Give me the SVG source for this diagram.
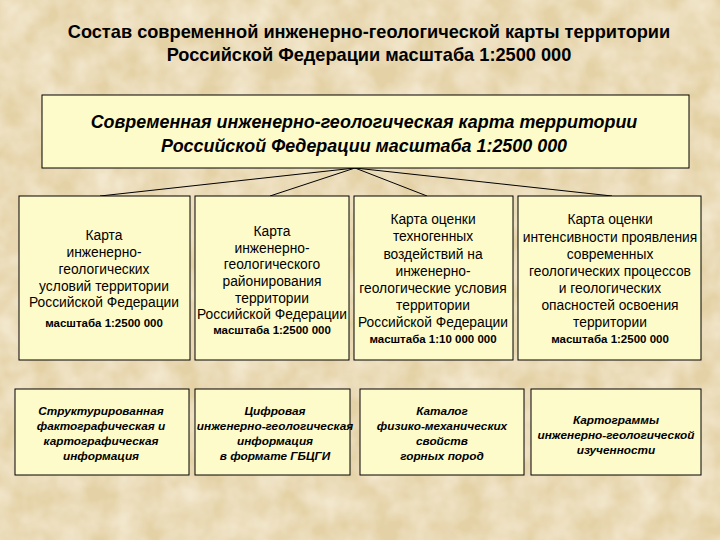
<svg xmlns="http://www.w3.org/2000/svg" width="720" height="540" viewBox="0 0 720 540">
<defs>
<filter id="tex" x="0" y="0" width="100%" height="100%">
<feTurbulence type="fractalNoise" baseFrequency="0.035" numOctaves="3" seed="4" result="n"/>
<feColorMatrix in="n" type="matrix" values="0 0 0 0 0.94  0 0 0 0 0.86  0 0 0 0 0.70  0 0 0 -1.2 0.9" result="c"/>
<feComposite in="c" in2="SourceGraphic" operator="over"/>
</filter>
</defs>
<style>
.box{fill:#fefbca;stroke:#000;stroke-width:1}
.title{font-family:"Liberation Sans",Arial,sans-serif;font-weight:bold;font-size:18.2px;fill:#000;text-anchor:middle}
.main{font-family:"Liberation Sans",Arial,sans-serif;font-weight:bold;font-style:italic;font-size:17.9px;fill:#000;text-anchor:middle}
.t1{font-family:"Liberation Sans",Arial,sans-serif;font-size:13.8px;fill:#000;text-anchor:middle}
.sc{font-family:"Liberation Sans",Arial,sans-serif;font-weight:bold;font-size:11.5px;fill:#000;text-anchor:middle}
.t2{font-family:"Liberation Sans",Arial,sans-serif;font-weight:bold;font-style:italic;font-size:11.8px;fill:#000;text-anchor:middle}
.conn{stroke:#000;stroke-width:1;fill:none}
</style>
<rect x="0" y="0" width="720" height="540" fill="#e4d2a6"/>
<rect x="0" y="0" width="720" height="540" fill="#e4d2a6" filter="url(#tex)"/>
<g id="title">
<text class="title" x="369" y="38">Состав современной инженерно-геологической карты территории</text>
<text class="title" x="369" y="61">Российской Федерации масштаба 1:2500 000</text>
</g>
<g id="connectors">
<line class="conn" x1="355" y1="168" x2="100" y2="196"/>
<line class="conn" x1="355" y1="168" x2="270" y2="196"/>
<line class="conn" x1="355" y1="168" x2="427" y2="196"/>
<line class="conn" x1="355" y1="168" x2="612" y2="196"/>
</g>
<g id="main">
<rect class="box" x="42" y="95" width="647" height="73"/>
<text class="main" x="364" y="128">Современная инженерно-геологическая карта территории</text>
<text class="main" x="364" y="152">Российской Федерации масштаба 1:2500 000</text>
</g>
<g id="map1">
<rect class="box" x="19" y="196" width="171" height="164"/>
<text class="t1" x="104" y="240">Карта</text>
<text class="t1" x="104" y="257">инженерно-</text>
<text class="t1" x="104" y="274">геологических</text>
<text class="t1" x="104" y="291">условий территории</text>
<text class="t1" x="104" y="307">Российской Федерации</text>
<text class="sc" x="104" y="327">масштаба 1:2500 000</text>
</g>
<g id="map2">
<rect class="box" x="195" y="196" width="154" height="164"/>
<text class="t1" x="272" y="236">Карта</text>
<text class="t1" x="272" y="253">инженерно-</text>
<text class="t1" x="272" y="269">геологического</text>
<text class="t1" x="272" y="286">районирования</text>
<text class="t1" x="272" y="303">территории</text>
<text class="t1" x="272" y="319">Российской Федерации</text>
<text class="sc" x="272" y="334">масштаба 1:2500 000</text>
</g>
<g id="map3">
<rect class="box" x="354" y="196" width="159" height="164"/>
<text class="t1" x="433" y="224">Карта оценки</text>
<text class="t1" x="433" y="241">техногенных</text>
<text class="t1" x="433" y="259">воздействий на</text>
<text class="t1" x="433" y="276">инженерно-</text>
<text class="t1" x="433" y="293">геологические условия</text>
<text class="t1" x="433" y="310">территории</text>
<text class="t1" x="433" y="327">Российской Федерации</text>
<text class="sc" x="433" y="343">масштаба 1:10 000 000</text>
</g>
<g id="map4">
<rect class="box" x="518" y="196" width="183" height="164"/>
<text class="t1" x="610" y="224">Карта оценки</text>
<text class="t1" x="610" y="242">интенсивности проявления</text>
<text class="t1" x="610" y="259">современных</text>
<text class="t1" x="610" y="276">геологических процессов</text>
<text class="t1" x="610" y="293">и геологических</text>
<text class="t1" x="610" y="310">опасностей освоения</text>
<text class="t1" x="610" y="327">территории</text>
<text class="sc" x="610" y="343">масштаба 1:2500 000</text>
</g>
<g id="info1">
<rect class="box" x="15" y="389" width="174" height="86"/>
<text class="t2" x="101" y="415">Структурированная</text>
<text class="t2" x="101" y="430">фактографическая и</text>
<text class="t2" x="101" y="445">картографическая</text>
<text class="t2" x="101" y="460">информация</text>
</g>
<g id="info2">
<rect class="box" x="195" y="389" width="155" height="86"/>
<text class="t2" x="275" y="415">Цифровая</text>
<text class="t2" x="275" y="430">инженерно-геологическая</text>
<text class="t2" x="275" y="445">информация</text>
<text class="t2" x="275" y="460">в формате ГБЦГИ</text>
</g>
<g id="info3">
<rect class="box" x="360" y="389" width="164" height="86"/>
<text class="t2" x="442" y="415">Каталог</text>
<text class="t2" x="442" y="430">физико-механических</text>
<text class="t2" x="442" y="445">свойств</text>
<text class="t2" x="442" y="460">горных пород</text>
</g>
<g id="info4">
<rect class="box" x="531" y="389" width="170" height="86"/>
<text class="t2" x="616" y="424">Картограммы</text>
<text class="t2" x="616" y="439">инженерно-геологической</text>
<text class="t2" x="616" y="454">изученности</text>
</g>
</svg>
